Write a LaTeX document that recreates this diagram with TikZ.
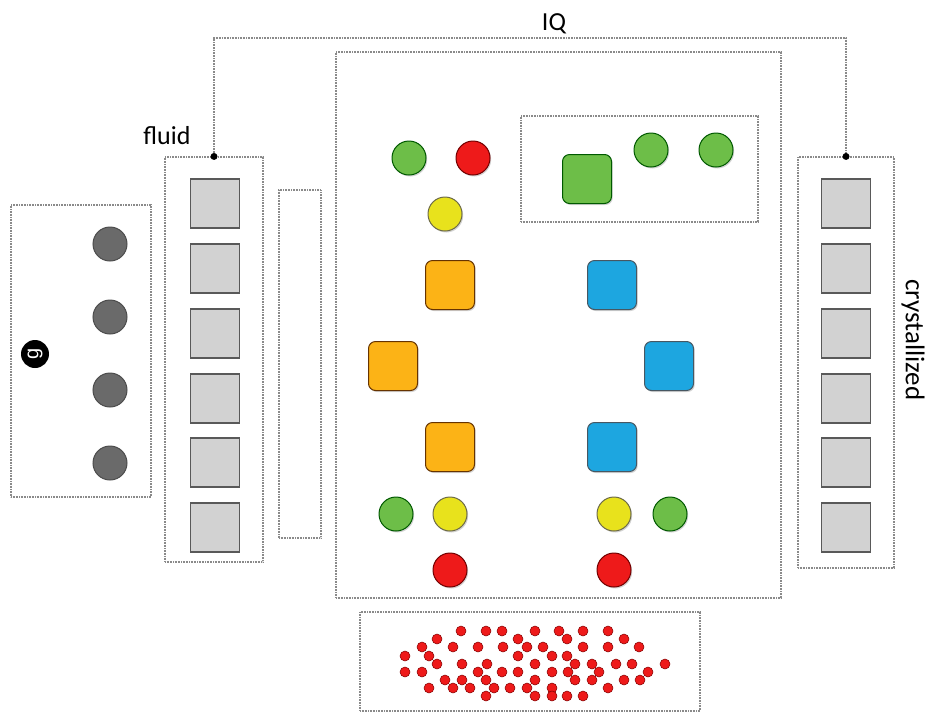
\documentclass[tikz,border=0pt]{standalone}
\usepackage{fontspec}
\setmainfont{Carlito}
\newfontfamily\gfont{Liberation Sans}
\usetikzlibrary{shadows}
\definecolor{cgreen}{HTML}{6DBE48}
\definecolor{cred}{HTML}{EE1A1A}
\definecolor{cyellow}{HTML}{E8E21C}
\definecolor{corange}{HTML}{FCB316}
\definecolor{cblue}{HTML}{1DA6E0}
\definecolor{csq}{HTML}{D2D2D2}
\definecolor{cgc}{HTML}{6A6A6A}
\definecolor{cdot}{HTML}{8A8A8A}
\tikzset{
  dbox/.style={draw=cdot, line width=1.1pt, dash pattern=on 0.8pt off 0.8pt, inner sep=0pt},
  shad/.style={drop shadow={opacity=0.35, shadow xshift=1.2pt, shadow yshift=-1.5pt}},
  ball/.style={circle, minimum size=34pt, inner sep=0pt, line width=1pt, shad},
  rsq/.style={rounded corners=7pt, minimum size=49pt, inner sep=0pt, line width=1pt, shad},
  gsq/.style={draw=black!65, fill=csq, minimum size=49pt, inner sep=0pt, line width=1.3pt},
  gball/.style={circle, draw=black!70, fill=cgc, minimum size=34pt, inner sep=0pt, line width=1pt},
  rdot/.style={circle, draw=red!50!black, fill=cred, minimum size=10pt, inner sep=0pt, line width=0.5pt},
  jdot/.style={circle, fill=black, minimum size=7pt, inner sep=0pt},
  lbl/.style={font=\fontsize{26}{28}\selectfont, inner sep=0pt}
}
\begin{document}
\begin{tikzpicture}[x=1pt,y=-1pt]
\useasboundingbox (0,0) rectangle (928,713);
% boxes
\node[dbox, minimum width=140, minimum height=292] (gbox) at (81,351) {};
\node[dbox, minimum width=98, minimum height=405] (fluid) at (214,359.5) {};
\node[dbox, minimum width=42, minimum height=348] (thin) at (300,364) {};
\node[dbox, minimum width=445, minimum height=546] (main) at (558.5,325) {};
\node[dbox, minimum width=237, minimum height=106] (inner) at (639.5,169) {};
\node[dbox, minimum width=96, minimum height=411] (cryst) at (846,362.5) {};
\node[dbox, minimum width=340, minimum height=99] (bottom) at (530,661.5) {};
% IQ connector
\coordinate (iql) at (214,38);
\coordinate (iqr) at (846,38);
\draw[draw=cdot, line width=1.1pt, dash pattern=on 0.8pt off 0.8pt] (fluid.north) -- (iql) -- (iqr) -- (cryst.north);
\node[jdot] (jl) at (fluid.north) {};
\node[jdot] (jr) at (cryst.north) {};
\node[lbl] (iq) at (554,24) {IQ};
\node[lbl] (fl) at (167,136) {fluid};
\node[lbl, font=\fontsize{27}{28}\selectfont, rotate=-90] (cr) at (913,340) {crystallized};
% g box
\node[circle, fill=black, minimum size=28pt, inner sep=0pt, text=white, font=\gfont\fontsize{20}{20}\selectfont, rotate=90] (g) at (35,354) {g};
\foreach \y [count=\i] in {244,317,390,463} \node[gball] (gc\i) at (110,\y) {};
% gray squares
\foreach \y [count=\i] in {203.5,268.5,333.5,398.5,462.5,527.5} {
  \node[gsq] (fs\i) at (215,\y) {};
  \node[gsq] (cs\i) at (846,\y) {};
}
% top circles
\node[ball, draw=green!35!black, fill=cgreen] (tg1) at (409,158) {};
\node[ball, draw=red!45!black, fill=cred] (tr1) at (473,158) {};
\node[ball, draw=yellow!35!black, fill=cyellow] (ty1) at (445,214) {};
\node[rsq, draw=green!35!black, fill=cgreen] (isq) at (587,179) {};
\node[ball, draw=green!35!black, fill=cgreen] (ig1) at (651,150) {};
\node[ball, draw=green!35!black, fill=cgreen] (ig2) at (716,150) {};
% orange / blue squares
\node[rsq, draw=orange!40!black, fill=corange] (o1) at (450,285) {};
\node[rsq, draw=orange!40!black, fill=corange] (o2) at (393,366) {};
\node[rsq, draw=orange!40!black, fill=corange] (o3) at (450,447) {};
\node[rsq, draw=cyan!30!black, fill=cblue] (b1) at (612,285) {};
\node[rsq, draw=cyan!30!black, fill=cblue] (b2) at (669,366) {};
\node[rsq, draw=cyan!30!black, fill=cblue] (b3) at (612,447) {};
% bottom circles
\node[ball, draw=green!35!black, fill=cgreen] (bg1) at (396,514) {};
\node[ball, draw=yellow!35!black, fill=cyellow] (by1) at (450,514) {};
\node[ball, draw=yellow!35!black, fill=cyellow] (by2) at (614,514) {};
\node[ball, draw=green!35!black, fill=cgreen] (bg2) at (670,514) {};
\node[ball, draw=red!45!black, fill=cred] (br1) at (450,570) {};
\node[ball, draw=red!45!black, fill=cred] (br2) at (614,570) {};
% red dot cloud
\foreach \p [count=\i] in {
 (461,631),(486,631),(502,631),(535,631),(559,631),(583,631),(608,631),
 (437,639),(518,639),(567,639),(624,639),
 (422,647),(453,647),(478,647),(503,647),(527,647),(543,647),(583,647),(608,647),(639,647),
 (405,656),(429,656),(518,656),(552,656),(567,656),
 (437,664),(462,664),(487,664),(535,664),(575,664),(592,664),(616,664),(632,664),(665,664),
 (405,672),(422,672),(478,672),(502,672),(518,672),(552,672),(568,672),(599,672),(648,672),
 (445,680),(462,680),(486,680),(535,680),(575,680),(592,680),(624,680),(640,680),
 (429,688),(453,688),(470,688),(494,688),(510,688),(527,688),(552,688),(608,688),
 (486,696),(535,696),(552,696),(567,696),(583,696)}
 \node[rdot] (rd\i) at \p {};
\end{tikzpicture}
\end{document}
